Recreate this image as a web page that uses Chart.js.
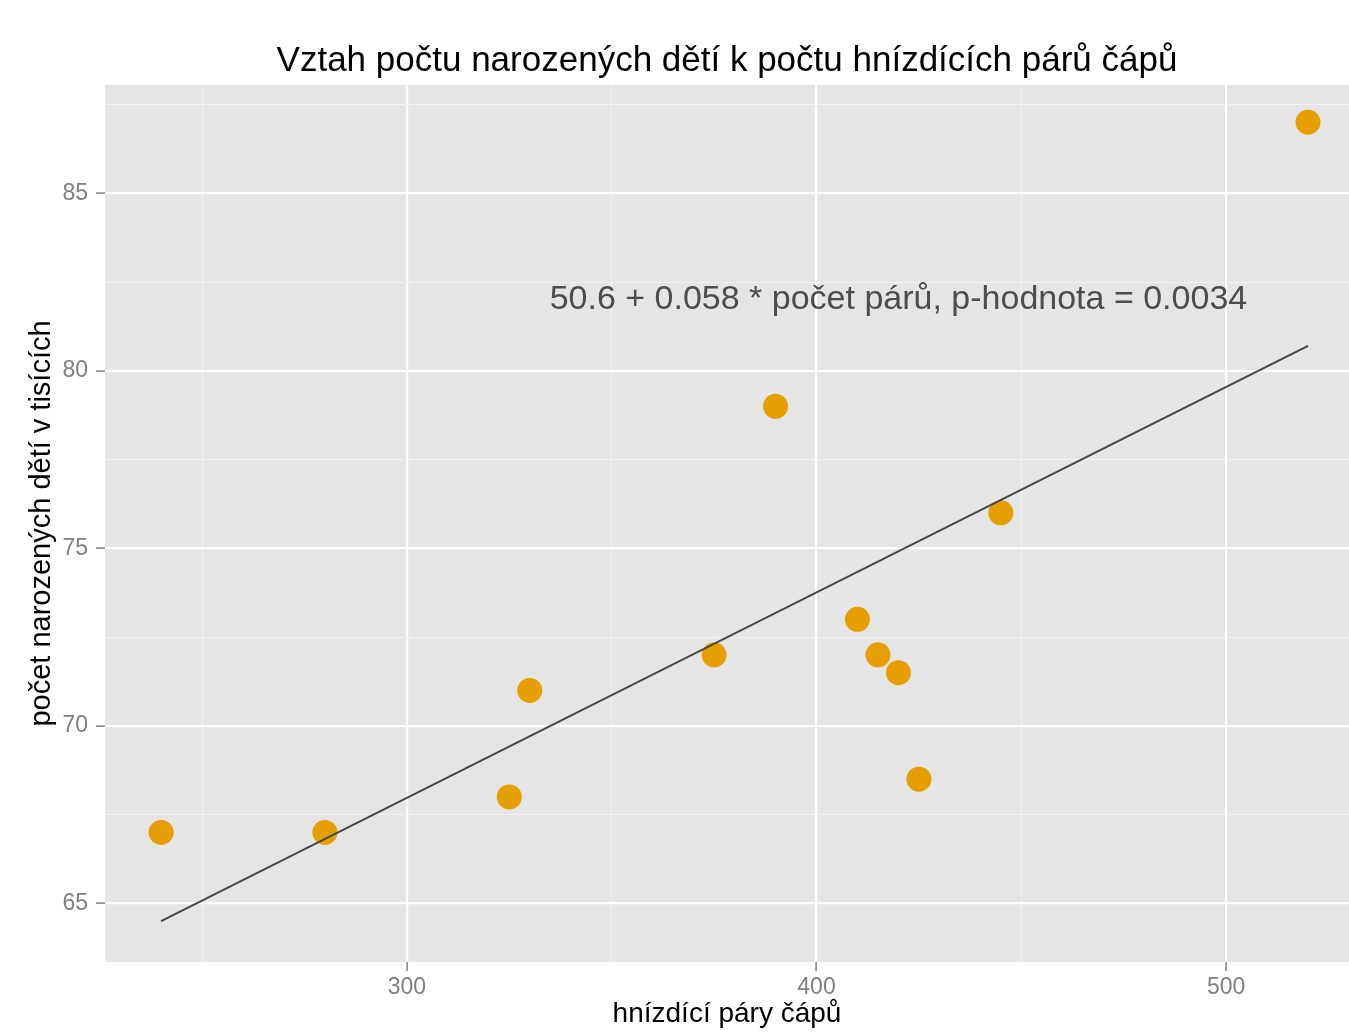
<!DOCTYPE html>
<html>
<head>
<meta charset="utf-8">
<script src="https://cdn.jsdelivr.net/npm/chart.js@4/dist/chart.umd.min.js"></script>
<style>
html,body{margin:0;padding:0;background:#fff;}
#wrap{width:1349px;height:1032px;}
</style>
</head>
<body>
<div id="wrap"><canvas id="c" width="1349" height="1032"></canvas></div>
<script>
const titleText = 'Vztah počtu narozených dětí k počtu hnízdících párů čápů';
const xTitle = 'hnízdící páry čápů';
const yTitle = 'počet narozených dětí v tisících';

const pairs  = [240, 280, 325, 330, 375, 390, 410, 415, 420, 425, 445, 520];
const births = [67, 67, 68, 71, 72, 79, 73, 72, 71.5, 68.5, 76, 87];

const fitX = [240, 520];
const fitY = [64.5, 80.7];

const annotText = '50.6 + 0.058 * počet párů, p-hodnota = 0.0034';
const annotAt = [420, 82];

const xMajor = [300, 400, 500];
const xMinor = [250, 350, 450];
const yMajor = [65, 70, 75, 80, 85];
const yMinor = [67.5, 72.5, 77.5, 82.5, 87.5];

const xRange = [226.3, 530];
const yRange = [63.35, 88.05];

const FONT = '"Liberation Sans", Arial, Helvetica, sans-serif';

function tickSet(major, minor) {
  return major.concat(minor).sort((a, b) => a - b).map(v => ({ value: v }));
}
function isMajor(list, v) { return list.some(m => Math.abs(m - v) < 1e-9); }

const panelBg = {
  id: 'panelBg',
  beforeDraw(chart) {
    const { ctx, chartArea: a } = chart;
    ctx.save();
    ctx.fillStyle = '#ffffff';
    ctx.fillRect(0, 0, chart.width, chart.height);
    ctx.fillStyle = '#e5e5e5';
    ctx.fillRect(a.left, a.top, a.right - a.left, a.bottom - a.top);
    ctx.restore();
  }
};

const annot = {
  id: 'annot',
  afterDatasetsDraw(chart) {
    const { ctx } = chart;
    const x = chart.scales.x.getPixelForValue(annotAt[0]);
    const y = chart.scales.y.getPixelForValue(annotAt[1]);
    ctx.save();
    ctx.font = '34px ' + FONT;
    ctx.fillStyle = '#4d4d4d';
    ctx.textAlign = 'center';
    ctx.textBaseline = 'middle';
    ctx.fillText(annotText, x, y);
    ctx.restore();
  }
};

new Chart(document.getElementById('c'), {
  type: 'scatter',
  data: {
    datasets: [
      {
        type: 'line',
        data: fitX.map((x, i) => ({ x: x, y: fitY[i] })),
        borderColor: '#474747',
        borderWidth: 2,
        pointRadius: 0,
        fill: false,
        tension: 0
      },
      {
        data: pairs.map((x, i) => ({ x: x, y: births[i] })),
        backgroundColor: '#E69F00',
        borderWidth: 0,
        pointRadius: 12.5,
        pointHoverRadius: 12.5
      }
    ]
  },
  plugins: [panelBg, annot],
  options: {
    responsive: false,
    animation: false,
    events: [],
    layout: { autoPadding: false, padding: { left: 0, right: 0, top: 0, bottom: 0 } },
    plugins: {
      legend: { display: false },
      tooltip: { enabled: false },
      title: {
        display: true,
        text: titleText,
        fullSize: false,
        color: '#000000',
        font: { family: FONT, size: 35, weight: 'normal' },
        padding: { top: 40, bottom: 3 }
      }
    },
    scales: {
      x: {
        type: 'linear',
        min: xRange[0],
        max: xRange[1],
        afterBuildTicks(s) { s.ticks = tickSet(xMajor, xMinor); },
        afterFit(s) { s.height = 70; s.paddingLeft = 0; s.paddingRight = 0; },
        border: { display: false },
        grid: {
          color: c => isMajor(xMajor, c.tick.value) ? '#ffffff' : '#f2f2f2',
          lineWidth: c => isMajor(xMajor, c.tick.value) ? 2.2 : 1,
          tickColor: c => isMajor(xMajor, c.tick.value) ? '#7f7f7f' : 'rgba(0,0,0,0)',
          tickLength: 9,
          tickWidth: 1.5
        },
        ticks: {
          autoSkip: false,
          maxRotation: 0,
          padding: 3,
          color: '#7f7f7f',
          font: { family: FONT, size: 23 },
          callback: v => isMajor(xMajor, v) ? String(v) : ''
        },
        title: {
          display: true,
          text: xTitle,
          color: '#000000',
          font: { family: FONT, size: 28 },
          padding: { top: 0, bottom: 1 }
        }
      },
      y: {
        type: 'linear',
        min: yRange[0],
        max: yRange[1],
        afterBuildTicks(s) { s.ticks = tickSet(yMajor, yMinor); },
        afterFit(s) { s.width = 105; s.paddingTop = 0; s.paddingBottom = 0; },
        border: { display: false },
        grid: {
          color: c => isMajor(yMajor, c.tick.value) ? '#ffffff' : '#f2f2f2',
          lineWidth: c => isMajor(yMajor, c.tick.value) ? 2.2 : 1,
          tickColor: c => isMajor(yMajor, c.tick.value) ? '#7f7f7f' : 'rgba(0,0,0,0)',
          tickLength: 9,
          tickWidth: 1.5
        },
        ticks: {
          autoSkip: false,
          padding: 8,
          color: '#7f7f7f',
          font: { family: FONT, size: 23 },
          callback: v => isMajor(yMajor, v) ? String(v) : ''
        },
        title: {
          display: true,
          text: yTitle,
          color: '#000000',
          font: { family: FONT, size: 29 },
          padding: { top: 25, bottom: 0 }
        }
      }
    }
  }
});
</script>
</body>
</html>
